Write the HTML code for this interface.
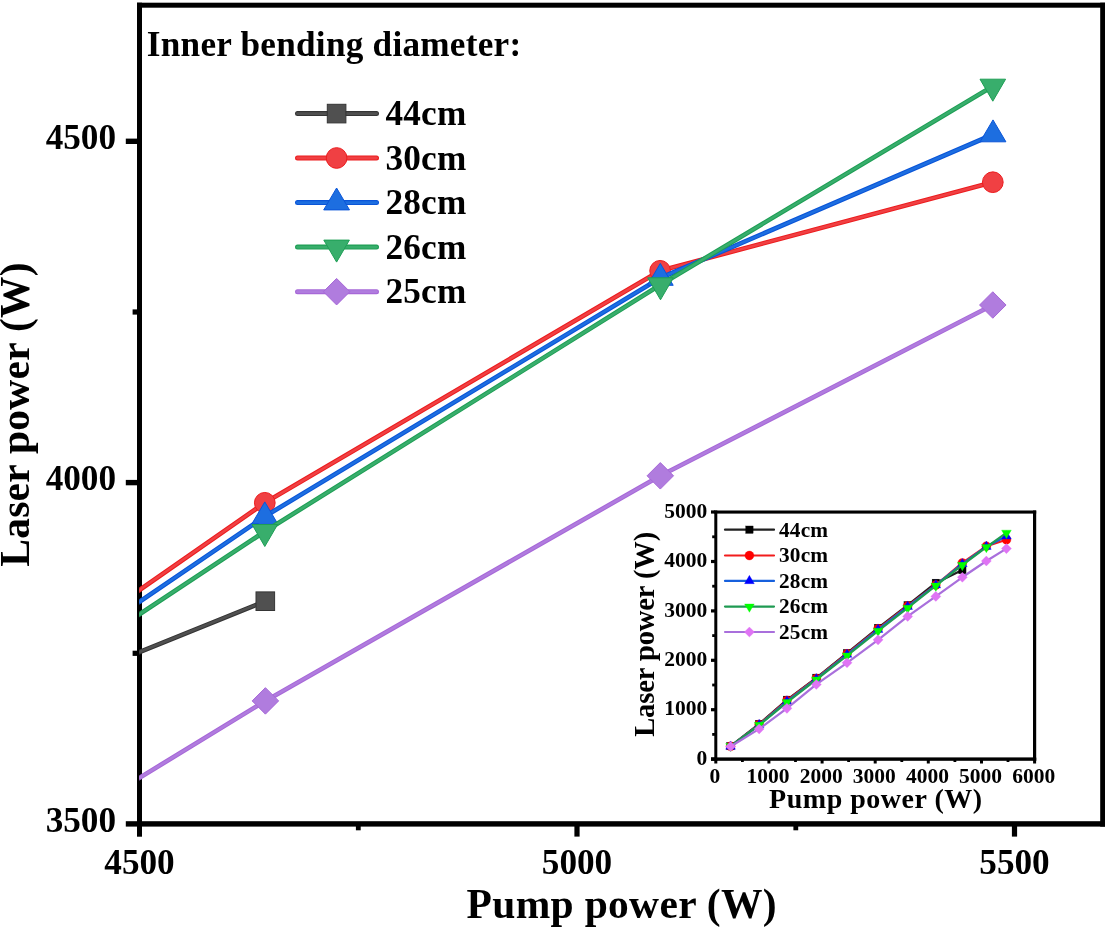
<!DOCTYPE html>
<html lang="en"><head><meta charset="utf-8"><title>Laser power vs pump power</title>
<style>
html,body{margin:0;padding:0;background:#fff;}
body{width:1105px;height:929px;overflow:hidden;}
svg{display:block;will-change:transform;}
text{font-family:"Liberation Serif",serif;font-weight:bold;fill:#000;}
</style></head><body>
<svg width="1105" height="929" viewBox="0 0 1105 929">
<rect x="0" y="0" width="1105" height="929" fill="#ffffff"/>
<defs><clipPath id="mc"><rect x="139.2" y="5" width="963" height="819"/></clipPath>
<clipPath id="ic"><rect x="716" y="512" width="319" height="247"/></clipPath></defs>
<g fill="#000">
<rect x="137" y="2.7" width="5" height="834"/>
<rect x="137" y="2.7" width="968" height="5"/>
<rect x="1100.2" y="2.7" width="4.8" height="823.9"/>
<rect x="125.8" y="821.2" width="979.2" height="5.4"/>
<rect x="574.4" y="824" width="5.2" height="12.6"/>
<rect x="1011.9" y="824" width="5.2" height="12.6"/>
<rect x="355.9" y="824" width="4.8" height="6.3"/>
<rect x="793.4" y="824" width="4.8" height="6.3"/>
<rect x="125.8" y="479.9" width="12" height="5.4"/>
<rect x="125.8" y="138.6" width="12" height="5.4"/>
<rect x="132.6" y="650.7" width="6" height="5.2"/>
<rect x="132.6" y="309.4" width="6" height="5.2"/>
</g>
<g clip-path="url(#mc)">
<polyline points="-184.0,781.6 139.5,652.0 265.3,601.2" fill="none" stroke="#353535" stroke-width="4.65" stroke-linejoin="round" stroke-linecap="butt"/>
<polyline points="-184.0,781.6 139.5,652.0 265.3,601.2" fill="none" stroke="#505050" stroke-width="2.55" stroke-linejoin="round" stroke-linecap="butt"/>
<rect x="256.00" y="591.90" width="18.60" height="18.60" fill="#505050" stroke="#353535" stroke-width="1.0"/>
<polyline points="-184.0,815.0 139.5,590.0 264.8,502.8 660.1,270.8 992.8,182.2" fill="none" stroke="#ec1c1e" stroke-width="4.65" stroke-linejoin="round" stroke-linecap="butt"/>
<polyline points="-184.0,815.0 139.5,590.0 264.8,502.8 660.1,270.8 992.8,182.2" fill="none" stroke="#f04043" stroke-width="2.55" stroke-linejoin="round" stroke-linecap="butt"/>
<circle cx="264.80" cy="502.80" r="10.35" fill="#f04043" stroke="#ec1c1e" stroke-width="1.0"/>
<circle cx="660.10" cy="270.80" r="10.35" fill="#f04043" stroke="#ec1c1e" stroke-width="1.0"/>
<circle cx="992.80" cy="182.20" r="10.35" fill="#f04043" stroke="#ec1c1e" stroke-width="1.0"/>
<polyline points="-184.0,817.5 139.5,601.7 264.8,516.5 660.3,278.0 993.0,134.5" fill="none" stroke="#0a55d8" stroke-width="4.65" stroke-linejoin="round" stroke-linecap="butt"/>
<polyline points="-184.0,817.5 139.5,601.7 264.8,516.5 660.3,278.0 993.0,134.5" fill="none" stroke="#1d6ee0" stroke-width="2.55" stroke-linejoin="round" stroke-linecap="butt"/>
<polygon points="264.80,501.90 277.70,523.80 251.90,523.80" fill="#1d6ee0" stroke="#0a55d8" stroke-width="1.0" stroke-linejoin="round"/>
<polygon points="660.30,263.40 673.20,285.30 647.40,285.30" fill="#1d6ee0" stroke="#0a55d8" stroke-width="1.0" stroke-linejoin="round"/>
<polygon points="993.00,119.90 1005.90,141.80 980.10,141.80" fill="#1d6ee0" stroke="#0a55d8" stroke-width="1.0" stroke-linejoin="round"/>
<polyline points="-184.0,824.5 139.5,614.3 264.8,531.5 660.5,284.8 992.8,86.2" fill="none" stroke="#1e9e55" stroke-width="4.65" stroke-linejoin="round" stroke-linecap="butt"/>
<polyline points="-184.0,824.5 139.5,614.3 264.8,531.5 660.5,284.8 992.8,86.2" fill="none" stroke="#38ae6c" stroke-width="2.55" stroke-linejoin="round" stroke-linecap="butt"/>
<polygon points="252.00,524.50 277.60,524.50 264.80,546.50" fill="#38ae6c" stroke="#1e9e55" stroke-width="1.0" stroke-linejoin="round"/>
<polygon points="647.70,277.80 673.30,277.80 660.50,299.80" fill="#38ae6c" stroke="#1e9e55" stroke-width="1.0" stroke-linejoin="round"/>
<polygon points="980.00,79.20 1005.60,79.20 992.80,101.20" fill="#38ae6c" stroke="#1e9e55" stroke-width="1.0" stroke-linejoin="round"/>
<polyline points="-184.0,975.2 139.5,777.8 265.4,700.9 660.3,475.8 992.8,305.0" fill="none" stroke="#a768d8" stroke-width="4.65" stroke-linejoin="round" stroke-linecap="butt"/>
<polyline points="-184.0,975.2 139.5,777.8 265.4,700.9 660.3,475.8 992.8,305.0" fill="none" stroke="#b07cde" stroke-width="2.55" stroke-linejoin="round" stroke-linecap="butt"/>
<polygon points="265.40,687.65 278.65,700.90 265.40,714.15 252.15,700.90" fill="#b07cde" stroke="#a768d8" stroke-width="1.0" stroke-linejoin="round"/>
<polygon points="660.30,462.55 673.55,475.80 660.30,489.05 647.05,475.80" fill="#b07cde" stroke="#a768d8" stroke-width="1.0" stroke-linejoin="round"/>
<polygon points="992.80,291.75 1006.05,305.00 992.80,318.25 979.55,305.00" fill="#b07cde" stroke="#a768d8" stroke-width="1.0" stroke-linejoin="round"/>
</g>
<g font-size="35.2px">
<text x="116" y="831.7" text-anchor="end">3500</text>
<text x="116" y="490.3" text-anchor="end">4000</text>
<text x="116" y="149.0" text-anchor="end">4500</text>
<text x="139.5" y="874" text-anchor="middle">4500</text>
<text x="577.0" y="874" text-anchor="middle">5000</text>
<text x="1014.5" y="874" text-anchor="middle">5500</text>
</g>
<text x="621.6" y="917.5" font-size="41.5px" text-anchor="middle" textLength="310" lengthAdjust="spacing">Pump power (W)</text>
<text transform="translate(29.2,414.6) rotate(-90)" font-size="41.5px" text-anchor="middle" textLength="304.5" lengthAdjust="spacing">Laser power (W)</text>
<text x="146.8" y="55.9" font-size="35.2px" textLength="374.3" lengthAdjust="spacing">Inner bending diameter:</text>
<line x1="297.5" y1="113.6" x2="376.5" y2="113.6" stroke="#353535" stroke-width="5" stroke-linecap="round"/>
<line x1="297.5" y1="113.6" x2="376.5" y2="113.6" stroke="#505050" stroke-width="2.8" stroke-linecap="round"/>
<rect x="327.30" y="104.30" width="18.60" height="18.60" fill="#505050" stroke="#353535" stroke-width="1.0"/>
<text x="385.6" y="125.1" font-size="35.2px" textLength="80.6" lengthAdjust="spacing">44cm</text>
<line x1="297.5" y1="158.0" x2="376.5" y2="158.0" stroke="#ec1c1e" stroke-width="5" stroke-linecap="round"/>
<line x1="297.5" y1="158.0" x2="376.5" y2="158.0" stroke="#f04043" stroke-width="2.8" stroke-linecap="round"/>
<circle cx="336.60" cy="158.00" r="10.35" fill="#f04043" stroke="#ec1c1e" stroke-width="1.0"/>
<text x="385.6" y="169.5" font-size="35.2px" textLength="80.6" lengthAdjust="spacing">30cm</text>
<line x1="297.5" y1="202.6" x2="376.5" y2="202.6" stroke="#0a55d8" stroke-width="5" stroke-linecap="round"/>
<line x1="297.5" y1="202.6" x2="376.5" y2="202.6" stroke="#1d6ee0" stroke-width="2.8" stroke-linecap="round"/>
<polygon points="336.60,188.00 349.50,209.90 323.70,209.90" fill="#1d6ee0" stroke="#0a55d8" stroke-width="1.0" stroke-linejoin="round"/>
<text x="385.6" y="214.1" font-size="35.2px" textLength="80.6" lengthAdjust="spacing">28cm</text>
<line x1="297.5" y1="247.1" x2="376.5" y2="247.1" stroke="#1e9e55" stroke-width="5" stroke-linecap="round"/>
<line x1="297.5" y1="247.1" x2="376.5" y2="247.1" stroke="#38ae6c" stroke-width="2.8" stroke-linecap="round"/>
<polygon points="323.80,240.10 349.40,240.10 336.60,262.10" fill="#38ae6c" stroke="#1e9e55" stroke-width="1.0" stroke-linejoin="round"/>
<text x="385.6" y="258.6" font-size="35.2px" textLength="80.6" lengthAdjust="spacing">26cm</text>
<line x1="297.5" y1="291.7" x2="376.5" y2="291.7" stroke="#a768d8" stroke-width="5" stroke-linecap="round"/>
<line x1="297.5" y1="291.7" x2="376.5" y2="291.7" stroke="#b07cde" stroke-width="2.8" stroke-linecap="round"/>
<polygon points="336.60,278.45 349.85,291.70 336.60,304.95 323.35,291.70" fill="#b07cde" stroke="#a768d8" stroke-width="1.0" stroke-linejoin="round"/>
<text x="385.6" y="303.2" font-size="35.2px" textLength="80.6" lengthAdjust="spacing">25cm</text>
<g>
<polyline points="730.6,746.2 759.2,723.9 786.9,699.8 816.3,677.8 847.0,653.1 878.1,627.9 907.7,605.2 935.8,582.9 962.3,570.1" fill="none" stroke="#202020" stroke-width="2.25" stroke-linejoin="round"/>
<rect x="726.85" y="742.43" width="7.44" height="7.44" fill="#000000" stroke="#000000" stroke-width="0.3"/>
<rect x="755.44" y="720.20" width="7.44" height="7.44" fill="#000000" stroke="#000000" stroke-width="0.3"/>
<rect x="783.23" y="696.09" width="7.44" height="7.44" fill="#000000" stroke="#000000" stroke-width="0.3"/>
<rect x="812.61" y="674.10" width="7.44" height="7.44" fill="#000000" stroke="#000000" stroke-width="0.3"/>
<rect x="843.32" y="649.40" width="7.44" height="7.44" fill="#000000" stroke="#000000" stroke-width="0.3"/>
<rect x="874.35" y="624.20" width="7.44" height="7.44" fill="#000000" stroke="#000000" stroke-width="0.3"/>
<rect x="903.94" y="601.47" width="7.44" height="7.44" fill="#000000" stroke="#000000" stroke-width="0.3"/>
<rect x="932.11" y="579.13" width="7.44" height="7.44" fill="#000000" stroke="#000000" stroke-width="0.3"/>
<rect x="958.62" y="566.34" width="7.44" height="7.44" fill="#000000" stroke="#000000" stroke-width="0.3"/>
<polyline points="730.6,746.4 759.2,724.5 786.9,700.5 816.3,678.5 847.0,653.9 878.1,628.8 907.7,605.9 935.8,585.0 962.3,562.9 986.4,546.1 1006.4,539.7" fill="none" stroke="#f21c1c" stroke-width="2.25" stroke-linejoin="round"/>
<circle cx="730.57" cy="746.35" r="4.50" fill="#ff0000" stroke="#ff0000" stroke-width="0.3"/>
<circle cx="759.16" cy="724.51" r="4.50" fill="#ff0000" stroke="#ff0000" stroke-width="0.3"/>
<circle cx="786.95" cy="700.55" r="4.50" fill="#ff0000" stroke="#ff0000" stroke-width="0.3"/>
<circle cx="816.33" cy="678.46" r="4.50" fill="#ff0000" stroke="#ff0000" stroke-width="0.3"/>
<circle cx="847.04" cy="653.86" r="4.50" fill="#ff0000" stroke="#ff0000" stroke-width="0.3"/>
<circle cx="878.07" cy="628.76" r="4.50" fill="#ff0000" stroke="#ff0000" stroke-width="0.3"/>
<circle cx="907.66" cy="605.93" r="4.50" fill="#ff0000" stroke="#ff0000" stroke-width="0.3"/>
<circle cx="935.83" cy="585.03" r="4.50" fill="#ff0000" stroke="#ff0000" stroke-width="0.3"/>
<circle cx="962.34" cy="562.94" r="4.50" fill="#ff0000" stroke="#ff0000" stroke-width="0.3"/>
<circle cx="986.35" cy="546.14" r="4.50" fill="#ff0000" stroke="#ff0000" stroke-width="0.3"/>
<circle cx="1006.44" cy="539.72" r="4.50" fill="#ff0000" stroke="#ff0000" stroke-width="0.3"/>
<polyline points="730.6,746.5 759.2,724.8 786.9,701.3 816.3,679.0 847.0,654.6 878.1,629.6 907.7,606.7 935.8,585.2 962.3,563.9 986.4,546.6 1006.4,536.3" fill="none" stroke="#1660dd" stroke-width="2.25" stroke-linejoin="round"/>
<polygon points="730.57,740.95 735.47,749.27 725.67,749.27" fill="#0000ff" stroke="#0000ff" stroke-width="0.3" stroke-linejoin="round"/>
<polygon points="759.16,719.21 764.06,727.53 754.25,727.53" fill="#0000ff" stroke="#0000ff" stroke-width="0.3" stroke-linejoin="round"/>
<polygon points="786.95,695.74 791.85,704.06 782.04,704.06" fill="#0000ff" stroke="#0000ff" stroke-width="0.3" stroke-linejoin="round"/>
<polygon points="816.33,673.41 821.23,681.73 811.43,681.73" fill="#0000ff" stroke="#0000ff" stroke-width="0.3" stroke-linejoin="round"/>
<polygon points="847.04,649.05 851.94,657.37 842.14,657.37" fill="#0000ff" stroke="#0000ff" stroke-width="0.3" stroke-linejoin="round"/>
<polygon points="878.07,624.10 882.97,632.42 873.17,632.42" fill="#0000ff" stroke="#0000ff" stroke-width="0.3" stroke-linejoin="round"/>
<polygon points="907.66,601.12 912.57,609.44 902.76,609.44" fill="#0000ff" stroke="#0000ff" stroke-width="0.3" stroke-linejoin="round"/>
<polygon points="935.83,579.68 940.73,588.00 930.92,588.00" fill="#0000ff" stroke="#0000ff" stroke-width="0.3" stroke-linejoin="round"/>
<polygon points="962.34,558.38 967.24,566.70 957.44,566.70" fill="#0000ff" stroke="#0000ff" stroke-width="0.3" stroke-linejoin="round"/>
<polygon points="986.35,541.09 991.26,549.41 981.45,549.41" fill="#0000ff" stroke="#0000ff" stroke-width="0.3" stroke-linejoin="round"/>
<polygon points="1006.44,530.71 1011.34,539.03 1001.54,539.03" fill="#0000ff" stroke="#0000ff" stroke-width="0.3" stroke-linejoin="round"/>
<polyline points="730.6,746.2 759.2,725.0 786.9,702.3 816.3,679.5 847.0,655.6 878.1,630.9 907.7,607.9 935.8,585.7 962.3,565.0 986.4,547.1 1006.4,532.8" fill="none" stroke="#1f9a52" stroke-width="2.25" stroke-linejoin="round"/>
<polygon points="725.71,743.49 735.44,743.49 730.57,751.85" fill="#00ff00" stroke="#00ff00" stroke-width="0.3" stroke-linejoin="round"/>
<polygon points="754.29,722.35 764.02,722.35 759.16,730.71" fill="#00ff00" stroke="#00ff00" stroke-width="0.3" stroke-linejoin="round"/>
<polygon points="782.08,699.62 791.81,699.62 786.95,707.98" fill="#00ff00" stroke="#00ff00" stroke-width="0.3" stroke-linejoin="round"/>
<polygon points="811.46,676.89 821.19,676.89 816.33,685.25" fill="#00ff00" stroke="#00ff00" stroke-width="0.3" stroke-linejoin="round"/>
<polygon points="842.18,652.93 851.90,652.93 847.04,661.29" fill="#00ff00" stroke="#00ff00" stroke-width="0.3" stroke-linejoin="round"/>
<polygon points="873.21,628.22 882.93,628.22 878.07,636.58" fill="#00ff00" stroke="#00ff00" stroke-width="0.3" stroke-linejoin="round"/>
<polygon points="902.80,605.25 912.53,605.25 907.66,613.61" fill="#00ff00" stroke="#00ff00" stroke-width="0.3" stroke-linejoin="round"/>
<polygon points="930.96,583.06 940.69,583.06 935.83,591.42" fill="#00ff00" stroke="#00ff00" stroke-width="0.3" stroke-linejoin="round"/>
<polygon points="957.47,562.36 967.20,562.36 962.34,570.72" fill="#00ff00" stroke="#00ff00" stroke-width="0.3" stroke-linejoin="round"/>
<polygon points="981.49,544.47 991.22,544.47 986.35,552.83" fill="#00ff00" stroke="#00ff00" stroke-width="0.3" stroke-linejoin="round"/>
<polygon points="1001.58,530.14 1011.30,530.14 1006.44,538.50" fill="#00ff00" stroke="#00ff00" stroke-width="0.3" stroke-linejoin="round"/>
<polyline points="730.6,746.5 759.2,728.9 786.9,708.4 816.3,684.4 847.0,662.8 878.1,639.9 907.7,616.4 935.8,596.4 962.3,577.3 986.4,561.0 1006.4,548.6" fill="none" stroke="#a96fdc" stroke-width="2.25" stroke-linejoin="round"/>
<polygon points="730.57,741.47 735.61,746.50 730.57,751.54 725.54,746.50" fill="#df74f4" stroke="#df74f4" stroke-width="0.3" stroke-linejoin="round"/>
<polygon points="759.16,723.88 764.19,728.91 759.16,733.95 754.12,728.91" fill="#df74f4" stroke="#df74f4" stroke-width="0.3" stroke-linejoin="round"/>
<polygon points="786.95,703.32 791.98,708.36 786.95,713.39 781.91,708.36" fill="#df74f4" stroke="#df74f4" stroke-width="0.3" stroke-linejoin="round"/>
<polygon points="816.33,679.41 821.36,684.44 816.33,689.48 811.29,684.44" fill="#df74f4" stroke="#df74f4" stroke-width="0.3" stroke-linejoin="round"/>
<polygon points="847.04,657.72 852.07,662.75 847.04,667.79 842.00,662.75" fill="#df74f4" stroke="#df74f4" stroke-width="0.3" stroke-linejoin="round"/>
<polygon points="878.07,634.84 883.10,639.87 878.07,644.91 873.03,639.87" fill="#df74f4" stroke="#df74f4" stroke-width="0.3" stroke-linejoin="round"/>
<polygon points="907.66,611.37 912.70,616.40 907.66,621.44 902.63,616.40" fill="#df74f4" stroke="#df74f4" stroke-width="0.3" stroke-linejoin="round"/>
<polygon points="935.83,591.36 940.86,596.39 935.83,601.43 930.79,596.39" fill="#df74f4" stroke="#df74f4" stroke-width="0.3" stroke-linejoin="round"/>
<polygon points="962.34,572.24 967.37,577.27 962.34,582.31 957.30,577.27" fill="#df74f4" stroke="#df74f4" stroke-width="0.3" stroke-linejoin="round"/>
<polygon points="986.35,555.93 991.39,560.97 986.35,566.00 981.32,560.97" fill="#df74f4" stroke="#df74f4" stroke-width="0.3" stroke-linejoin="round"/>
<polygon points="1006.44,543.58 1011.47,548.61 1006.44,553.65 1001.40,548.61" fill="#df74f4" stroke="#df74f4" stroke-width="0.3" stroke-linejoin="round"/>
</g>
<g fill="#000">
<rect x="714.3" y="510.5" width="3.0" height="250.3"/>
<rect x="714.3" y="510.5" width="321.9" height="3.1"/>
<rect x="1033.0" y="510.5" width="3.2" height="250.3"/>
<rect x="711.0" y="757.4" width="325.2" height="3.4"/>
<rect x="714.3" y="758" width="3.0" height="5.5"/>
<rect x="767.4" y="758" width="3.0" height="5.5"/>
<rect x="820.6" y="758" width="3.0" height="5.5"/>
<rect x="873.7" y="758" width="3.0" height="5.5"/>
<rect x="926.8" y="758" width="3.0" height="5.5"/>
<rect x="980.0" y="758" width="3.0" height="5.5"/>
<rect x="1033.1" y="758" width="3.0" height="5.5"/>
<rect x="741.0" y="758" width="2.8" height="4"/>
<rect x="794.1" y="758" width="2.8" height="4"/>
<rect x="847.2" y="758" width="2.8" height="4"/>
<rect x="900.4" y="758" width="2.8" height="4"/>
<rect x="953.5" y="758" width="2.8" height="4"/>
<rect x="1006.6" y="758" width="2.8" height="4"/>
<rect x="711.0" y="757.5" width="4" height="3.2"/>
<rect x="711.0" y="708.1" width="4" height="3.2"/>
<rect x="711.0" y="658.7" width="4" height="3.2"/>
<rect x="711.0" y="609.3" width="4" height="3.2"/>
<rect x="711.0" y="559.9" width="4" height="3.2"/>
<rect x="711.0" y="510.4" width="4" height="3.2"/>
<rect x="712.2" y="733.0" width="3" height="2.8"/>
<rect x="712.2" y="683.6" width="3" height="2.8"/>
<rect x="712.2" y="634.2" width="3" height="2.8"/>
<rect x="712.2" y="584.8" width="3" height="2.8"/>
<rect x="712.2" y="535.4" width="3" height="2.8"/>
</g>
<g font-size="21.5px">
<text x="707.2" y="764.7" text-anchor="end">0</text>
<text x="707.2" y="715.3" text-anchor="end">1000</text>
<text x="707.2" y="665.9" text-anchor="end">2000</text>
<text x="707.2" y="616.5" text-anchor="end">3000</text>
<text x="707.2" y="567.1" text-anchor="end">4000</text>
<text x="707.2" y="517.6" text-anchor="end">5000</text>
<text x="714.9" y="783.2" text-anchor="middle">0</text>
<text x="768.0" y="783.2" text-anchor="middle">1000</text>
<text x="821.2" y="783.2" text-anchor="middle">2000</text>
<text x="874.3" y="783.2" text-anchor="middle">3000</text>
<text x="927.4" y="783.2" text-anchor="middle">4000</text>
<text x="980.6" y="783.2" text-anchor="middle">5000</text>
<text x="1033.7" y="783.2" text-anchor="middle">6000</text>
</g>
<text x="875.6" y="808" font-size="28px" text-anchor="middle" textLength="213" lengthAdjust="spacing">Pump power (W)</text>
<text transform="translate(654.0,634.3) rotate(-90)" font-size="28.5px" text-anchor="middle" textLength="205" lengthAdjust="spacing">Laser power (W)</text>
<line x1="725" y1="529.7" x2="774" y2="529.7" stroke="#202020" stroke-width="2.2" stroke-linecap="round"/>
<rect x="745.68" y="525.98" width="7.44" height="7.44" fill="#000000" stroke="#000000" stroke-width="0.3"/>
<text x="779" y="536.5" font-size="21.3px" textLength="49" lengthAdjust="spacing">44cm</text>
<line x1="725" y1="555.5" x2="774" y2="555.5" stroke="#f21c1c" stroke-width="2.2" stroke-linecap="round"/>
<circle cx="749.40" cy="555.50" r="4.50" fill="#ff0000" stroke="#ff0000" stroke-width="0.3"/>
<text x="779" y="562.3" font-size="21.3px" textLength="49" lengthAdjust="spacing">30cm</text>
<line x1="725" y1="580.9" x2="774" y2="580.9" stroke="#1660dd" stroke-width="2.2" stroke-linecap="round"/>
<polygon points="749.40,575.35 754.30,583.67 744.50,583.67" fill="#0000ff" stroke="#0000ff" stroke-width="0.3" stroke-linejoin="round"/>
<text x="779" y="587.7" font-size="21.3px" textLength="49" lengthAdjust="spacing">28cm</text>
<line x1="725" y1="606.6" x2="774" y2="606.6" stroke="#1f9a52" stroke-width="2.2" stroke-linecap="round"/>
<polygon points="744.54,603.94 754.26,603.94 749.40,612.30" fill="#00ff00" stroke="#00ff00" stroke-width="0.3" stroke-linejoin="round"/>
<text x="779" y="613.4" font-size="21.3px" textLength="49" lengthAdjust="spacing">26cm</text>
<line x1="725" y1="632.0" x2="774" y2="632.0" stroke="#a96fdc" stroke-width="2.2" stroke-linecap="round"/>
<polygon points="749.40,626.97 754.43,632.00 749.40,637.03 744.37,632.00" fill="#df74f4" stroke="#df74f4" stroke-width="0.3" stroke-linejoin="round"/>
<text x="779" y="638.8" font-size="21.3px" textLength="49" lengthAdjust="spacing">25cm</text>
</svg>
</body></html>
